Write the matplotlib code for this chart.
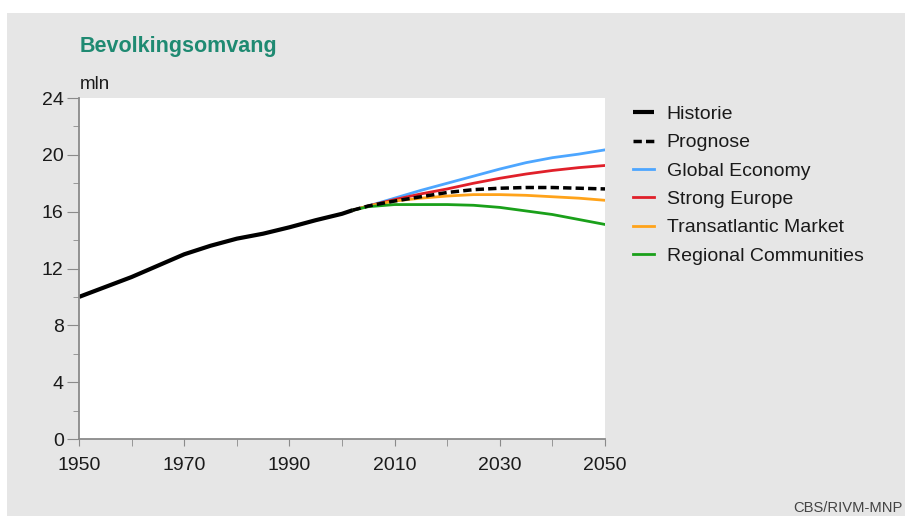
import numpy as np
import matplotlib
matplotlib.use('agg')
import matplotlib.pyplot as plt
from matplotlib.patches import Rectangle
from matplotlib.ticker import MultipleLocator

plt.rcParams['font.family'] = ['Liberation Sans', 'DejaVu Sans']

# population of the Netherlands, million
hist_years = [1950, 1955, 1960, 1965, 1970, 1975, 1980, 1985, 1990, 1995, 2000, 2002]
hist_vals = [10.0, 10.7, 11.4, 12.2, 13.0, 13.6, 14.1, 14.45, 14.9, 15.4, 15.85, 16.1]

scen_years = [2002, 2005, 2010, 2015, 2020, 2025, 2030, 2035, 2040, 2045, 2050]
prognose = [16.1, 16.4, 16.75, 17.05, 17.35, 17.55, 17.65, 17.7, 17.7, 17.65, 17.6]
global_economy = [16.1, 16.4, 16.95, 17.5, 18.0, 18.5, 19.0, 19.45, 19.8, 20.05, 20.35]
strong_europe = [16.1, 16.4, 16.85, 17.25, 17.6, 18.0, 18.35, 18.65, 18.9, 19.1, 19.25]
transatlantic = [16.1, 16.4, 16.75, 16.95, 17.1, 17.2, 17.2, 17.15, 17.05, 16.95, 16.8]
regional = [16.1, 16.35, 16.5, 16.5, 16.5, 16.45, 16.3, 16.05, 15.8, 15.45, 15.1]

fig = plt.figure(figsize=(9.05, 5.16), dpi=100, facecolor='white')
fig.patches.append(Rectangle((7 / 905, 0), 1, 1 - 13 / 516, transform=fig.transFigure,
                             facecolor='#e6e6e6', edgecolor='none', zorder=-10))

ax = fig.add_axes([79 / 905, 77 / 516, 526 / 905, 341 / 516])
ax.set_facecolor('white')

l_ge, = ax.plot(scen_years, global_economy, color='#4da6ff', lw=2.0)
l_se, = ax.plot(scen_years, strong_europe, color='#e0202a', lw=2.0)
l_ta, = ax.plot(scen_years, transatlantic, color='#ffa31a', lw=2.0)
l_rc, = ax.plot(scen_years, regional, color='#1aa01a', lw=2.0)
l_pr, = ax.plot(scen_years, prognose, color='black', lw=2.5, ls=(0, (2.4, 1.2)))
l_hi, = ax.plot(hist_years, hist_vals, color='black', lw=3.0, solid_capstyle='butt')

ax.set_xlim(1950, 2050)
ax.set_ylim(0, 24)
ax.set_xticks(range(1950, 2051, 20))
ax.xaxis.set_minor_locator(MultipleLocator(10))
ax.set_yticks(range(0, 25, 4))
ax.yaxis.set_minor_locator(MultipleLocator(2))

for s in ['top', 'right']:
    ax.spines[s].set_visible(False)
for s in ['left', 'bottom']:
    ax.spines[s].set_color('#8a8a8a')
    ax.spines[s].set_linewidth(1.3)
ax.tick_params(axis='x', which='major', length=5, color='#8a8a8a', labelsize=14,
               labelcolor='#1a1a1a', pad=8)
ax.tick_params(axis='x', which='minor', length=5, color='#8a8a8a')
ax.tick_params(axis='y', which='major', length=9, color='#8a8a8a', labelsize=14,
               labelcolor='#1a1a1a', pad=2)
ax.tick_params(axis='y', which='minor', length=4, color='#8a8a8a')

fig.text(80 / 905, 1 - 47 / 516, 'Bevolkingsomvang', color='#1f8a72', fontsize=15.5,
         fontweight='bold', va='center', ha='left')
fig.text(80 / 905, 1 - 84 / 516, 'mln', color='#1a1a1a', fontsize=13.5,
         va='center', ha='left')
fig.text(793 / 905, 1 - 508 / 516, 'CBS/RIVM-MNP', color='#444444', fontsize=10.6,
         va='center', ha='left')

leg = fig.legend([l_hi, l_pr, l_ge, l_se, l_ta, l_rc],
                 ['Historie', 'Prognose', 'Global Economy', 'Strong Europe',
                  'Transatlantic Market', 'Regional Communities'],
                 loc='upper left', bbox_to_anchor=(615 / 905, 1 - 88 / 516),
                 frameon=False, fontsize=14, labelspacing=0.55,
                 handlelength=1.13, handletextpad=0.62, labelcolor='#1a1a1a')

fig.savefig('out.png', dpi=100, facecolor=fig.get_facecolor())
